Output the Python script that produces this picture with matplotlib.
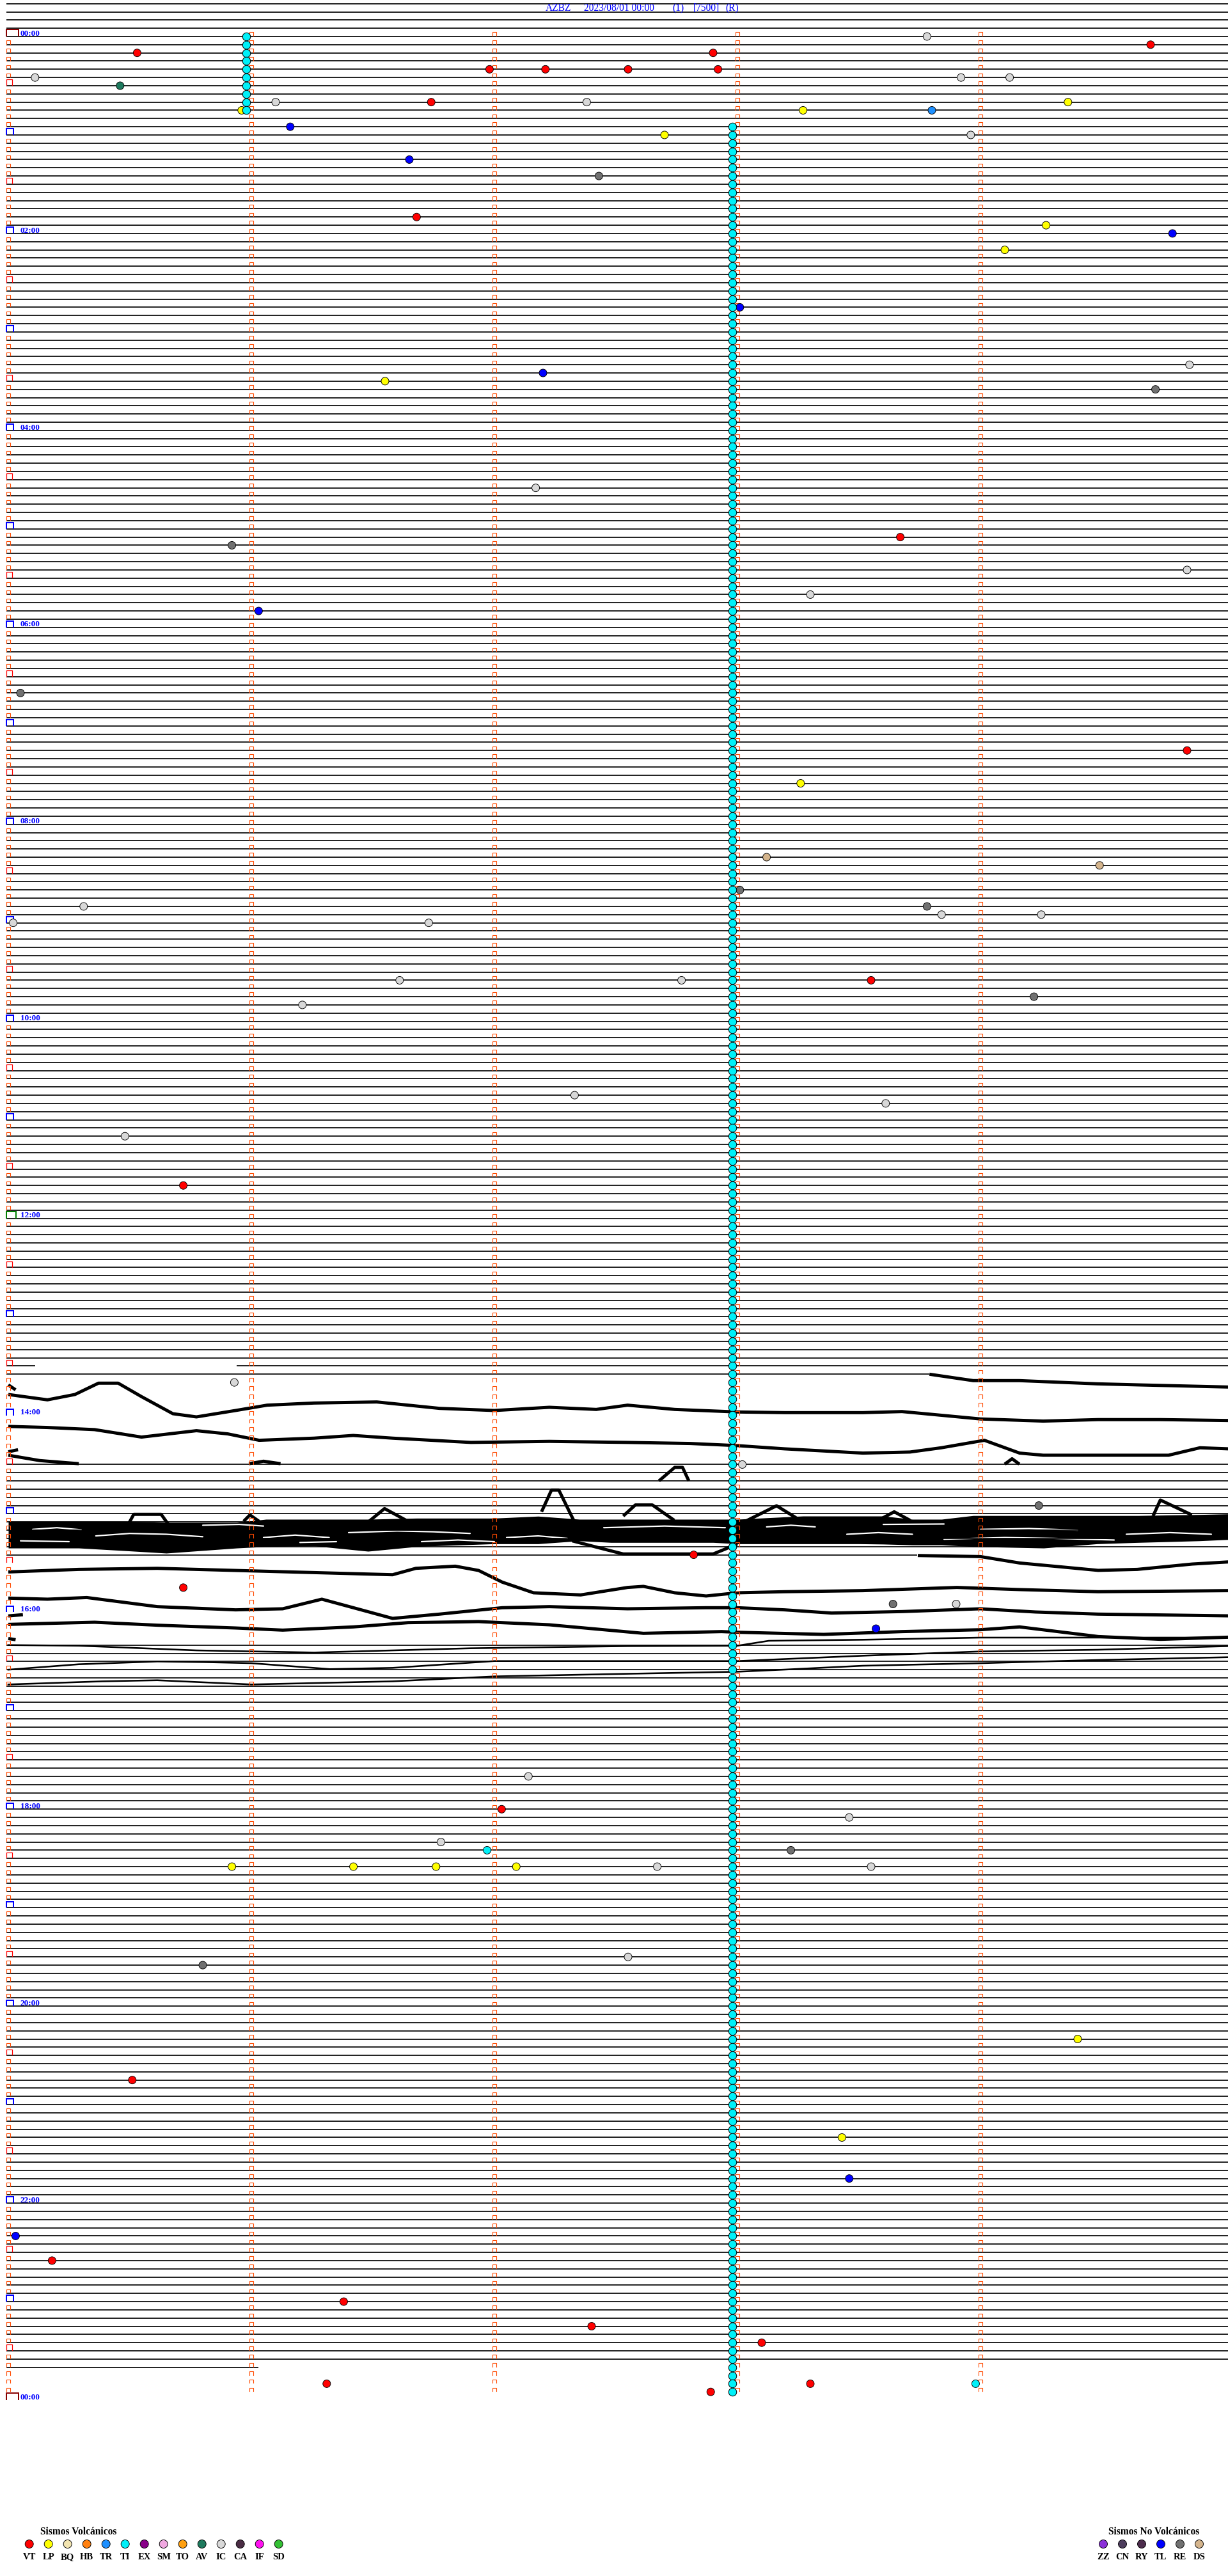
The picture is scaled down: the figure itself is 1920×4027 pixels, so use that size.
import matplotlib
matplotlib.use("Agg")
import matplotlib.pyplot as plt
import numpy as np

# ======================= DATA =======================
STATION = "AZBZ"
DATE_LABEL = "2023/08/01 00:00"
CHANNEL = "(1)"
GAIN = "[7500]"
MODE = "(R)"

SLOT_MIN = 5                       # minutes per trace line
N_SLOTS = 288                      # 24 h of 5-minute lines
PRE_SLOTS = [-4, -3, -2, -1]       # previous-day lines above 00:00
HOUR_LABELS = ["00:00", "02:00", "04:00", "06:00", "08:00", "10:00", "12:00",
               "14:00", "16:00", "18:00", "20:00", "22:00", "00:00"]
HOUR_LABEL_SLOTS = [0, 24, 48, 72, 96, 120, 144, 168, 192, 216, 240, 264, 288]

# rows whose trace is only partly drawn: (start_min, end_min) pieces
PARTIAL_ROWS = {162: [(-0.01, 0.11), (0.94, 5.02)],
                163: [(-0.01, 3.79)],
                185: [(-0.01, 3.74)],
                284: [(-0.01, 1.03)]}
MISSING_ROWS = list(range(164, 174)) + list(range(186, 196)) + [285, 286, 287]

# event times (minutes after 00:00) and types
EV_TIME = [3.78, 9.70, 10.53, 12.90, 21.98, 22.21, 22.55, 22.92, 25.11, 28.92,
           29.12, 30.46, 41.10, 41.74, 42.38, 44.36, 45.96, 48.27, 48.80, 56.16,
           62.70, 63.96, 76.65, 87.43, 111.68, 119.27, 124.79, 134.10, 168.01, 204.86,
           207.20, 211.55, 219.72, 277.17, 308.67, 310.92, 329.85, 343.30, 351.03, 400.05,
           439.85, 458.26, 503.12, 509.49, 523.01, 530.31, 533.78, 538.84, 539.25, 540.02,
           541.73, 576.61, 577.77, 578.55, 589.22, 591.21, 647.33, 653.61, 670.48, 700.72,
           820.93, 873.02, 899.24, 927.82, 945.72, 958.64, 958.90, 973.57, 1062.14, 1082.03,
           1088.46, 1101.78, 1106.97, 1108.22, 1115.92, 1116.42, 1116.76, 1117.09, 1117.67, 1118.55,
           1172.55, 1175.80, 1224.40, 1245.51, 1283.43, 1308.46, 1340.03, 1355.18, 1381.38, 1397.40,
           1408.10, 1431.31, 1433.30, 1433.98, 1437.89]
EV_TYPE = ["IC", "VT", "VT", "VT", "VT", "VT", "VT", "VT", "IC", "IC",
           "IC", "AV", "IC", "VT", "IC", "LP", "LP", "LP", "TR", "TL",
           "LP", "IC", "TL", "RE", "VT", "LP", "TL", "LP", "TL", "IC",
           "TL", "LP", "RE", "IC", "VT", "RE", "IC", "IC", "TL", "RE",
           "VT", "LP", "DS", "DS", "RE", "IC", "RE", "IC", "IC", "IC",
           "IC", "IC", "IC", "VT", "RE", "IC", "IC", "IC", "IC", "VT",
           "IC", "IC", "RE", "VT", "VT", "RE", "IC", "TL", "IC", "VT",
           "IC", "IC", "TI", "RE", "LP", "LP", "LP", "LP", "IC", "IC",
           "IC", "RE", "LP", "VT", "LP", "TL", "TL", "VT", "VT", "VT",
           "VT", "VT", "VT", "TI", "VT"]

# continuous tremor (TI) pulses: (offset within line in min, first line, last line)
TI_RUNS = [(0.98, 0, 9), (2.98, 11, 287)]

VOLC_CODES = ["VT", "LP", "BQ", "HB", "TR", "TI", "EX", "SM", "TO", "AV", "IC", "CA", "IF", "SD"]
NONVOLC_CODES = ["ZZ", "CN", "RY", "TL", "RE", "DS"]
TYPE_COLORS = {"VT": "#FF0000", "LP": "#FFFF00", "BQ": "#F2E4B0", "HB": "#FF8010",
               "TR": "#1E90FF", "TI": "#00F0F8", "EX": "#880088", "SM": "#F0A8E0",
               "TO": "#FFA010", "AV": "#1E7A5E", "IC": "#D8D8D8", "CA": "#4A2C44",
               "IF": "#FF10F0", "SD": "#34C034", "ZZ": "#8A30D8", "CN": "#4C3C5C",
               "RY": "#4C2C4C", "TL": "#0000FF", "RE": "#707070", "DS": "#D4B48C"}

# drifting (saturated) traces read from the record: minute positions and line positions
DRIFT_THICK = [
    ([3.79, 3.97, 4.16, 4.48, 4.65, 5.02],
     [163.0, 163.78, 163.78, 164.17, 164.30, 164.56]),
    ([0.0, 0.161, 0.274, 0.371, 0.452, 0.548, 0.677, 0.774, 0.935, 1.065, 1.258, 1.516, 1.645,
      1.774, 2.0, 2.226, 2.419, 2.548, 2.742, 3.0, 3.194, 3.516, 3.677, 4.0, 4.258, 4.484, 4.742, 5.02],
     [165.47, 166.12, 165.47, 164.09, 164.09, 165.73, 167.81, 168.2, 167.42, 166.77, 166.51, 166.38,
      166.77, 167.16, 167.42, 167.03, 167.29, 166.77, 167.29, 167.6, 167.68, 167.68, 167.55, 168.45,
      168.71, 168.53, 168.53, 168.64]),
    ([0.0, 0.161, 0.355, 0.548, 0.774, 0.903, 1.032, 1.258, 1.419, 1.581, 1.903, 2.226, 2.548, 2.806,
      3.0, 3.194, 3.516, 3.71, 3.839, 4.016, 4.161, 4.258, 4.774, 4.903, 5.02],
     [169.36, 169.49, 169.75, 170.66, 169.88, 170.27, 171.05, 170.79, 170.46, 170.79, 171.31, 171.18,
      171.31, 171.44, 171.70, 172.09, 172.61, 172.48, 171.96, 171.05, 172.61, 172.87, 172.87, 171.96,
      172.09]),
    ([0.0, 0.129, 0.29], [172.87, 173.52, 173.9]),
    ([0.0, 0.04], [172.45, 172.2]),
    ([0.0, 0.03], [164.3, 164.9]),
    ([0.99, 1.05, 1.12], [173.9, 173.6, 173.9]),
    ([3.742, 4.0, 4.161, 4.484, 4.645, 4.871, 5.02],
     [185.09, 185.22, 186.0, 186.9, 186.78, 186.13, 185.87]),
    ([0.0, 0.29, 0.613, 0.935, 1.258, 1.581, 1.677, 1.839, 1.935, 2.032, 2.161, 2.355, 2.548, 2.613,
      2.742, 2.871, 3.0, 3.194, 3.516, 3.903, 4.161, 4.484, 5.02],
     [187.09, 186.78, 186.65, 186.91, 187.17, 187.43, 186.65, 186.39, 186.91, 188.33, 189.63, 189.89,
      188.98, 188.85, 189.63, 190.02, 189.63, 189.5, 189.37, 188.98, 189.24, 189.5, 189.37]),
    ([0.0, 0.161, 0.323, 0.613, 0.935, 1.129, 1.29, 1.452, 1.581, 1.774, 2.032, 2.226, 2.548, 2.871,
      3.0, 3.194, 3.387, 3.677, 4.0, 4.226, 4.484, 5.02],
     [190.28, 190.41, 190.21, 191.32, 191.71, 191.58, 190.41, 191.71, 192.75, 192.23, 191.45, 191.32,
      191.58, 191.45, 191.45, 191.71, 192.1, 191.92, 191.58, 191.97, 192.23, 192.44]),
    ([0.0, 0.06], [192.45, 192.3]),
    ([0.0, 0.355, 0.613, 0.935, 1.129, 1.419, 1.645, 1.935, 2.226, 2.613, 2.935, 3.0, 3.355, 3.677,
      4.0, 4.161, 4.484, 4.742, 5.02],
     [193.48, 193.22, 193.58, 193.92, 194.18, 193.79, 193.27, 193.14, 193.53, 194.57, 194.36, 194.44,
      194.7, 194.36, 194.13, 193.79, 194.96, 195.3, 195.04]),
    ([0.0, 0.03], [195.2, 195.35]),
    # excursions rising out of the saturated band
    ([2.677, 2.742, 2.774, 2.80], [176.0, 174.35, 174.35, 176.0]),
    ([2.194, 2.235, 2.265, 2.339], [179.76, 177.11, 177.11, 181.58]),
    ([2.53, 2.58, 2.65, 2.74], [180.28, 178.93, 178.93, 180.8]),
    ([4.71, 4.74, 4.87], [180.28, 178.33, 180.15]),
    ([0.484, 0.516, 0.629, 0.671], [181.83, 180.07, 180.07, 181.83]),
    ([1.484, 1.548, 1.645], [180.93, 179.37, 180.93]),
    ([3.032, 3.161, 3.258], [180.93, 179.03, 180.8]),
    ([3.58, 3.645, 3.71], [180.8, 179.76, 180.8]),
    ([0.968, 0.994, 1.032], [180.93, 180.15, 180.93]),
    ([4.10, 4.13, 4.16], [173.95, 173.3, 173.95]),
    ([2.32, 2.45, 2.53, 2.90, 2.95, 3.0], [183.3, 184.3, 184.9, 184.9, 184.3, 183.66]),
]
DRIFT_THIN = [
    ([0.0, 0.29, 0.774, 1.258, 1.581, 1.903, 2.548, 3.0, 3.129, 3.516, 4.0, 5.02],
     [196.0, 196.08, 196.65, 196.91, 196.65, 196.39, 196.13, 196.08, 195.48, 195.35, 195.09, 195.09]),
    ([0.0, 0.29, 0.613, 0.806, 1.0, 1.323, 1.581, 2.0, 2.548, 3.0, 3.516, 4.0, 4.484, 5.02],
     [199.0, 198.34, 198.0, 198.08, 198.21, 198.93, 198.78, 197.95, 197.95, 197.95, 197.3, 196.78, 196.57, 196.13]),
    ([0.0, 0.387, 0.613, 1.0, 1.581, 2.0, 2.548, 3.0, 3.194, 3.516, 4.0, 4.484, 5.02],
     [200.8, 200.42, 200.29, 200.8, 200.42, 199.82, 199.5, 199.25, 198.99, 198.52, 198.21, 197.82, 197.48]),
]
# saturated band (15:00-15:25): upper and lower edge
MESS_M = [0.0, 0.29, 0.48, 0.65, 0.94, 1.06, 1.26, 1.48, 1.68, 1.74, 2.0, 2.18, 2.35, 2.48, 2.9,
          3.0, 3.27, 3.5, 3.6, 3.72, 3.84, 3.97, 4.26, 4.48, 4.65, 4.9, 5.02]
MESS_TOP = [180.93, 180.93, 180.93, 181.06, 181.06, 180.67, 180.67, 180.67, 180.54, 180.54, 180.54,
            180.3, 180.67, 180.67, 180.67, 180.67, 180.28, 180.28, 180.28, 180.67, 180.67, 180.22,
            180.22, 180.22, 180.22, 180.1, 180.02]
MESS_BOT = [184.18, 184.18, 184.5, 184.8, 184.18, 184.0, 183.92, 184.57, 184.0, 183.92, 183.66,
            183.66, 183.3, 183.5, 183.5, 183.66, 183.66, 183.66, 183.7, 183.8, 183.8, 184.0,
            184.18, 183.66, 183.5, 183.3, 183.14]
# white gaps inside the saturated band (minute points, line positions)
MESS_HOLES = [
    ([0.36, 0.50, 0.65, 0.80], [182.7, 182.4, 182.5, 182.8]),
    ([1.05, 1.18, 1.32], [182.9, 182.6, 182.9]),
    ([1.40, 1.60, 1.75, 1.90], [182.3, 182.1, 182.2, 182.4]),
    ([2.05, 2.18, 2.30], [182.9, 182.7, 183.0]),
    ([3.12, 3.22, 3.32], [181.6, 181.4, 181.6]),
    ([3.45, 3.58, 3.72], [182.5, 182.3, 182.5]),
    ([3.85, 4.10, 4.30, 4.55], [183.1, 182.9, 183.0, 183.2]),
    ([4.60, 4.78, 4.95], [182.5, 182.3, 182.5]),
    ([0.10, 0.20, 0.30], [181.9, 181.7, 181.95]),
    ([2.45, 2.70, 2.95], [181.7, 181.5, 181.7]),
    ([1.70, 1.85, 2.00], [183.4, 183.2, 183.4]),
    ([4.00, 4.20, 4.40], [181.9, 181.8, 182.0]),
    ([0.80, 0.95, 1.05], [181.4, 181.3, 181.5]),
    ([1.20, 1.35], [183.5, 183.4]),
    ([3.60, 3.85], [181.3, 181.25]),
    ([0.05, 0.25], [183.3, 183.4]),
]

# ======================= LAYOUT =======================
W, H = 1920, 4027
X0, PXM = 13.0, 380.0       # pixel of minute 0, pixels per minute
Y0, PXR = 57.0, 12.83       # pixel of line 0, pixels per line
PT = 0.72                   # points per pixel at 100 dpi


def mx(px):
    return (px - X0) / PXM


def ry(py):
    return (py - Y0) / PXR


fig = plt.figure(figsize=(W / 100, H / 100), dpi=100)
ax = fig.add_axes([0, 0, 1, 1])
ax.set_xlim(mx(0), mx(W))
ax.set_ylim(ry(H), ry(0))
ax.axis("off")
fig.patch.set_facecolor("white")

LEFT, RIGHT = mx(10), mx(W)
LINE_LW = 1.7 * PT

# ---- trace lines
segs_y, segs_x0, segs_x1 = [], [], []
for r in PRE_SLOTS + list(range(0, N_SLOTS)):
    if r in MISSING_ROWS:
        continue
    pieces = PARTIAL_ROWS.get(r, [(LEFT, RIGHT)])
    for a, b in pieces:
        segs_y.append(r)
        segs_x0.append(max(a, LEFT))
        segs_x1.append(min(b, RIGHT))
ax.hlines(segs_y, segs_x0, segs_x1, colors="black", lw=LINE_LW, zorder=3)

# ---- saturated band
ax.fill_between(MESS_M, MESS_TOP, MESS_BOT, color="black", lw=0, zorder=2)
for m, r in MESS_HOLES:
    ax.plot(m, r, color="white", lw=2.2 * PT, solid_capstyle="round", zorder=2.5)
for m, r in DRIFT_THICK:
    ax.plot(m, r, color="black", lw=5 * PT, solid_joinstyle="round", solid_capstyle="butt", zorder=3)
for m, r in DRIFT_THIN:
    ax.plot(m, r, color="black", lw=2.6 * PT, solid_joinstyle="round", zorder=3)


# ---- time marks
def cap(xc, r, left_px, right_px, h_px, color, lw_px):
    x_a = xc + left_px / PXM
    x_b = xc + right_px / PXM
    top = r - h_px / PXR
    ax.plot([x_a, x_a, x_b, x_b], [r - 0.02, top, top, r - 0.02], color=color,
            lw=lw_px * PT, solid_joinstyle="miter", zorder=4)


for r in range(0, N_SLOTS + 1):
    if r % 12 == 0:
        if r % 288 == 0:
            cap(0, r - 0.05, -3, 16, 10, "#880000", 2)
        elif r == 144:
            cap(0, r - 0.05, -3, 12, 10, "#008000", 2)
        else:
            cap(0, r - 0.05, -3, 8, 9, "#0000FF", 2)
    elif r % 6 == 0:
        cap(0, r - 0.05, -3, 6, 9, "#FF0000", 1.2)
    else:
        cap(0, r - 0.05, -3, 3, 6, "#FF4A00", 1.1)
    if r < N_SLOTS:
        for k in range(1, SLOT_MIN):
            cap(k, r - 0.05, -3, 3, 6, "#FF4A00", 1.1)

# ---- hour labels
for lab, r in zip(HOUR_LABELS, HOUR_LABEL_SLOTS):
    ax.text(mx(32), r - 0.1, lab, color="#0000FF", fontsize=9.5, fontweight="bold",
            family="Liberation Serif", ha="left", va="baseline", zorder=6)

# ---- events
ev_t = np.array(EV_TIME)
ev_row = np.floor(ev_t / SLOT_MIN)
ev_m = ev_t - ev_row * SLOT_MIN
ev_col = [TYPE_COLORS[t] for t in EV_TYPE]
ax.scatter(ev_m, ev_row, s=(12 * PT) ** 2, c=ev_col, edgecolors="black",
           linewidths=0.9 * PT, zorder=6)

ti_m, ti_r = [], []
for off, r0, r1 in TI_RUNS:
    for r in range(r0, r1 + 1):
        ti_m.append(off)
        ti_r.append(r)
ax.scatter(ti_m, ti_r, s=(12.5 * PT) ** 2, c=TYPE_COLORS["TI"], edgecolors="black",
           linewidths=1.0 * PT, zorder=7)

# ---- title
title_kw = dict(color="#0000FF", fontsize=11.2, family="Liberation Serif", ha="left",
                va="baseline", zorder=8)
for txt, px in [(STATION, 853), (DATE_LABEL, 913), (CHANNEL, 1051), (GAIN, 1084), (MODE, 1134)]:
    ax.text(mx(px), ry(17.5), txt, **title_kw)

# ---- legend
leg_kw = dict(color="black", fontweight="bold", family="Liberation Serif", zorder=8)
ax.text(mx(63), ry(3962), "Sismos Volcánicos", fontsize=11.2, ha="left", va="baseline", **leg_kw)
ax.text(mx(1733), ry(3962), "Sismos No Volcánicos", fontsize=11.2, ha="left", va="baseline", **leg_kw)
for codes, x_start in [(VOLC_CODES, 45.7), (NONVOLC_CODES, 1725.0)]:
    xs = [mx(x_start + 30 * i) for i in range(len(codes))]
    ax.scatter(xs, [ry(3977)] * len(codes), s=(13 * PT) ** 2,
               c=[TYPE_COLORS[c] for c in codes], edgecolors="black", linewidths=0.9 * PT, zorder=8)
    for x, c in zip(xs, codes):
        ax.text(x, ry(4001), c, fontsize=10.5, ha="center", va="baseline", **leg_kw)

fig.savefig("out.png", dpi=100, facecolor="white")
